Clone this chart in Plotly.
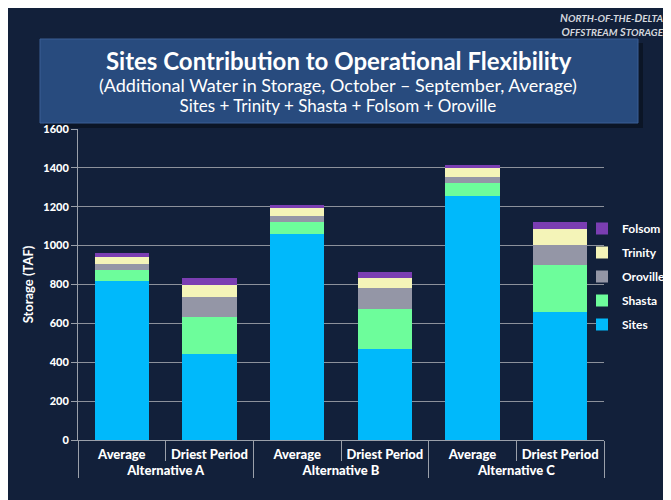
import plotly.graph_objects as go

# ---- data ----
alternatives = ["Alternative A", "Alternative A", "Alternative B", "Alternative B", "Alternative C", "Alternative C"]
periods = ["Average", "Driest Period", "Average", "Driest Period", "Average", "Driest Period"]
sites = [817, 442, 1059, 468, 1256, 660]
shasta = [57, 189, 64, 206, 67, 240]
oroville = [31, 106, 29, 106, 28, 104]
trinity = [37, 63, 41, 54, 46, 82]
folsom = [18, 34, 14, 31, 17, 35]
y_ticks = [0, 200, 400, 600, 800, 1000, 1200, 1400, 1600]

series = [
    ("Sites", sites, "#00b9fb", 5),
    ("Shasta", shasta, "#6dfd9b", 4),
    ("Oroville", oroville, "#9496a6", 3),
    ("Trinity", trinity, "#f4f4b8", 2),
    ("Folsom", folsom, "#7b3eb2", 1),
]

W, H = 671, 500
OFF = 8  # page (body) margin offset as seen in the screenshot
L, R, T, B = 70, 75, 121, 68
PW, PH = W - L - R, H - T - B


def px(x):
    """screenshot x -> paper x"""
    return (x - OFF - L) / PW


def py(y):
    """screenshot y -> paper y"""
    return (H - B - (y - OFF)) / PH


NAVY = "#12203a"
FONT = "Lato"

fig = go.Figure()
for name, vals, col, rank in series:
    fig.add_trace(go.Bar(
        x=[alternatives, periods], y=vals, name="<b>" + name + "</b>",
        marker=dict(color=col, line=dict(width=0)),
        legendgroup=name, legendrank=rank,
    ))

shapes = [
    # title box shadow and box
    dict(type="rect", xref="paper", yref="paper", x0=px(44), x1=px(643), y0=py(128), y1=py(43),
         fillcolor="#0b1526", line=dict(width=0), layer="below"),
    dict(type="rect", xref="paper", yref="paper", x0=px(40), x1=px(638), y0=py(123), y1=py(39),
         fillcolor="#284b7e", line=dict(color="#3a5f94", width=1), layer="below"),
]

small = "<span style='font-size:10px'>%s</span>"
annotations = [
    dict(text="<b>Sites Contribution to Operational Flexibility</b>", x=px(339), y=py(61),
         font=dict(size=24, color="white", family=FONT)),
    dict(text="<span style='font-size:18px'>(Additional Water in Storage, October \u2013 September, Average)</span>"
              "<br><span style='font-size:17px'>Sites + Trinity + Shasta + Folsom + Oroville</span>",
         x=px(338), y=py(95),
         font=dict(size=15, color="white", family=FONT)),
    dict(text="<b><i>N" + small % "ORTH-OF-THE-" + "D" + small % "ELTA" + "<br>"
              + "O" + small % "FFSTREAM" + " S" + small % "TORAGE" + "</i></b>",
         x=px(666), y=py(24), xanchor="right", align="right",
         font=dict(size=11, color="#d5d8de", family=FONT)),
]
for a in annotations:
    a.update(xref="paper", yref="paper", showarrow=False)
    a.setdefault("xanchor", "center")
    a.setdefault("yanchor", "middle")

fig.update_layout(
    width=W, height=H,
    margin=dict(l=L, r=R, t=T, b=B, autoexpand=False),
    paper_bgcolor=NAVY, plot_bgcolor=NAVY,
    barmode="stack", bargap=0.38,
    font=dict(family=FONT, color="white"),
    shapes=shapes, annotations=annotations,
    legend=dict(xref="container", yref="container", x=574 / W, y=1 - 206 / H,
                xanchor="left", yanchor="top",
                traceorder="grouped", tracegroupgap=5, itemwidth=30,
                font=dict(size=12, color="white", family=FONT),
                bgcolor="rgba(0,0,0,0)"),
    xaxis=dict(type="multicategory", showline=True, linecolor="#9aa0aa", linewidth=1,
               ticks="outside", ticklen=20, tickcolor="#9aa0aa", tickangle=0,
               showdividers=True, dividercolor="#9aa0aa", dividerwidth=1,
               ticklabelstandoff=2,
               tickfont=dict(size=13, color="white", family=FONT + " Black"),
               showgrid=False, automargin=False),
    yaxis=dict(range=[0, 1600], tickvals=y_ticks, ticks="outside", ticklen=6,
               tickcolor="#9aa0aa", showline=True, linecolor="#9aa0aa",
               gridcolor="#8c919b", gridwidth=1, zeroline=False, automargin=False,
               tickfont=dict(size=11, color="white", family=FONT + " Black"),
               title=dict(text="<b>Storage (TAF)</b>", font=dict(size=13, color="white", family=FONT),
                          standoff=6)),
)

fig.write_html("out.html")
